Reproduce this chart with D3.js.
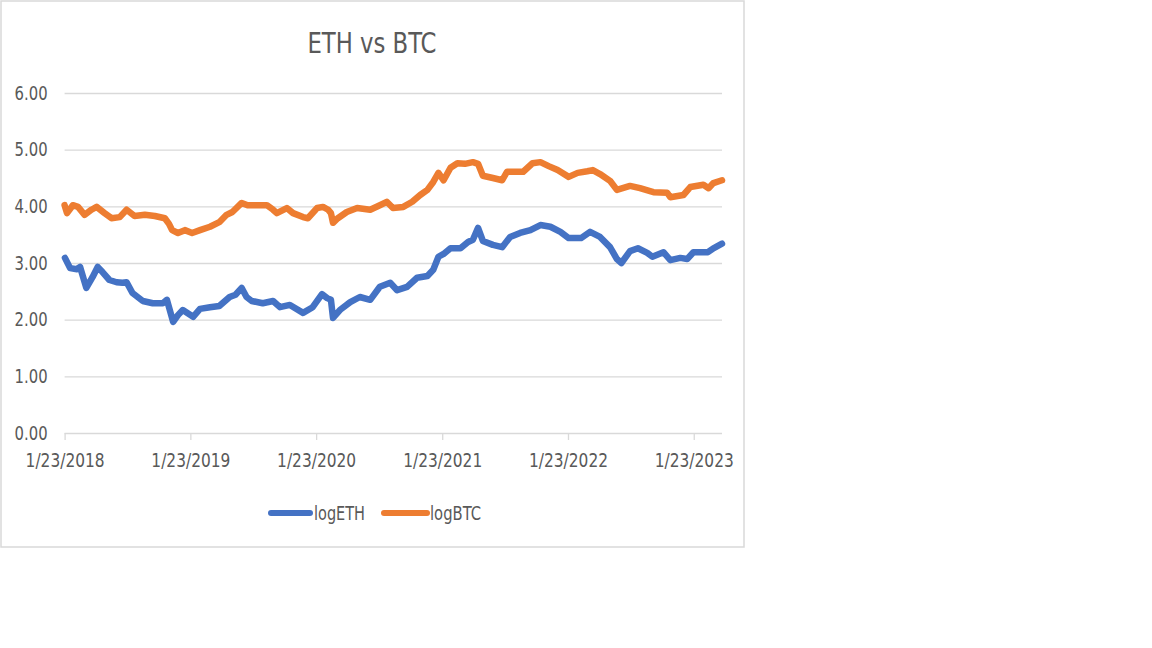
<!DOCTYPE html>
<html>
<head>
<meta charset="utf-8">
<script src="https://cdn.jsdelivr.net/npm/d3@7"></script>
<style>
  html, body { margin: 0; padding: 0; background: #ffffff; }
  svg { display: block; }
  text { font-family: "Liberation Sans Narrow", "DejaVu Sans Condensed", "Liberation Sans", sans-serif; fill: #595959; }
</style>
</head>
<body>
<svg id="chart" width="1152" height="648"></svg>
<script>
// ---------------- data ----------------
const chartTitle = "ETH vs BTC";
const seriesNames = ["logETH", "logBTC"];
const seriesColors = ["#4472C4", "#ED7D31"];

const yTickValues = [0, 1, 2, 3, 4, 5, 6];
const xTickDates = ["2018-01-23", "2019-01-23", "2020-01-23", "2021-01-23", "2022-01-23", "2023-01-23"];
const xStart = "2018-01-23";
const xEnd = "2023-04-15";

const ethDates = [
  "2018-01-24","2018-02-08","2018-02-28","2018-03-09","2018-03-27","2018-04-14","2018-04-29","2018-05-13",
  "2018-06-02","2018-06-23","2018-07-10","2018-07-22","2018-08-08","2018-09-07","2018-10-06","2018-11-04",
  "2018-11-16","2018-12-04","2018-12-18","2019-01-01","2019-01-31","2019-02-20","2019-03-21","2019-04-17",
  "2019-05-17","2019-06-03","2019-06-21","2019-07-05","2019-07-20","2019-08-21","2019-09-20","2019-10-10",
  "2019-11-08","2019-12-16","2020-01-13","2020-02-09","2020-02-24","2020-03-06","2020-03-12","2020-04-01",
  "2020-05-01","2020-05-29","2020-06-28","2020-07-26","2020-08-25","2020-09-14","2020-10-13","2020-11-11",
  "2020-12-11","2020-12-28","2021-01-12","2021-01-27","2021-02-16","2021-03-17","2021-04-08","2021-04-22",
  "2021-05-07","2021-05-21","2021-06-19","2021-07-16","2021-08-08","2021-09-06","2021-10-06","2021-11-04",
  "2021-12-03","2022-01-01","2022-01-25","2022-03-02","2022-03-28","2022-04-26","2022-05-25","2022-06-14",
  "2022-06-27","2022-07-22","2022-08-14","2022-09-10","2022-09-25","2022-10-27","2022-11-16","2022-12-15",
  "2023-01-04","2023-01-22","2023-03-05","2023-03-21","2023-04-15"
];
const ethValues = [
  3.09,2.91,2.89,2.93,2.56,2.75,2.93,2.84,
  2.70,2.66,2.65,2.66,2.47,2.33,2.29,2.29,
  2.35,1.96,2.08,2.17,2.05,2.19,2.22,2.24,
  2.40,2.44,2.56,2.40,2.33,2.29,2.33,2.22,
  2.26,2.12,2.22,2.45,2.38,2.35,2.03,2.17,
  2.31,2.40,2.35,2.58,2.65,2.52,2.58,2.74,
  2.77,2.88,3.11,3.16,3.26,3.26,3.37,3.41,
  3.62,3.39,3.32,3.28,3.46,3.53,3.58,3.67,
  3.64,3.55,3.44,3.44,3.55,3.46,3.28,3.07,
  3.00,3.21,3.26,3.18,3.11,3.19,3.05,3.09,
  3.07,3.19,3.19,3.26,3.34
];

const btcDates = [
  "2018-01-23","2018-01-30","2018-02-16","2018-03-03","2018-03-22","2018-04-11","2018-04-26","2018-05-19",
  "2018-06-08","2018-07-02","2018-07-22","2018-08-14","2018-09-13","2018-10-12","2018-11-10","2018-11-22",
  "2018-12-01","2018-12-18","2019-01-07","2019-01-28","2019-02-20","2019-03-21","2019-04-17","2019-05-08",
  "2019-05-25","2019-06-21","2019-07-08","2019-08-03","2019-09-02","2019-09-20","2019-10-01","2019-10-30",
  "2019-11-17","2019-12-16","2019-12-30","2020-01-26","2020-02-12","2020-02-27","2020-03-06","2020-03-12",
  "2020-03-26","2020-04-21","2020-05-21","2020-06-28","2020-07-26","2020-08-15","2020-09-02","2020-10-02",
  "2020-10-28","2020-11-20","2020-12-11","2020-12-28","2021-01-12","2021-01-27","2021-02-16","2021-03-08",
  "2021-03-30","2021-04-22","2021-05-07","2021-05-21","2021-06-19","2021-07-16","2021-07-30","2021-08-29",
  "2021-09-15","2021-10-12","2021-11-04","2021-11-28","2021-12-24","2022-01-25","2022-02-20","2022-03-20",
  "2022-04-05","2022-04-26","2022-05-25","2022-06-14","2022-07-22","2022-08-20","2022-09-28","2022-11-07",
  "2022-11-16","2022-12-24","2023-01-13","2023-02-20","2023-03-07","2023-03-21","2023-04-15"
];
const btcValues = [
  4.02,3.88,4.02,3.99,3.85,3.94,3.99,3.88,
  3.79,3.81,3.94,3.83,3.85,3.83,3.79,3.69,
  3.58,3.53,3.58,3.53,3.58,3.64,3.72,3.85,
  3.90,4.06,4.02,4.02,4.02,3.94,3.88,3.97,
  3.88,3.81,3.79,3.97,3.99,3.94,3.88,3.71,
  3.79,3.90,3.97,3.94,4.02,4.08,3.97,3.99,
  4.08,4.20,4.29,4.43,4.59,4.46,4.68,4.76,
  4.75,4.78,4.75,4.54,4.50,4.46,4.61,4.61,
  4.61,4.76,4.78,4.71,4.64,4.52,4.59,4.62,
  4.64,4.57,4.45,4.29,4.36,4.32,4.25,4.24,
  4.16,4.20,4.34,4.38,4.32,4.41,4.46
];

// ---------------- drawing ----------------
const parse = d3.timeParse("%Y-%m-%d");
const fmt = d3.timeFormat("%-m/%-d/%Y");
const svg = d3.select("#chart");
const fontStack = '"Liberation Sans Narrow", "DejaVu Sans Condensed", sans-serif';

const plot = { left: 64.6, right: 722, top: 93, bottom: 433 };

const x = d3.scaleTime().domain([parse(xStart), parse(xEnd)]).range([plot.left, plot.right]);
const y = d3.scaleLinear().domain([0, 6]).range([plot.bottom, plot.top]);

// outer chart border
svg.append("rect")
  .attr("x", 1).attr("y", 1).attr("width", 743).attr("height", 546)
  .attr("fill", "#ffffff").attr("stroke", "#d9d9d9").attr("stroke-width", 1.5);

// title
svg.append("text")
  .attr("x", 372).attr("y", 53)
  .attr("text-anchor", "middle")
  .attr("font-size", 29)
  .attr("textLength", 129).attr("lengthAdjust", "spacingAndGlyphs")
  .text(chartTitle);

// y gridlines + labels
const yAxis = d3.axisLeft(y).tickValues(yTickValues).tickSize(-(plot.right - plot.left)).tickPadding(17)
  .tickFormat(d3.format(".2f"));
const gy = svg.append("g").attr("transform", `translate(${plot.left},0)`).call(yAxis);
gy.select(".domain").remove();
gy.selectAll(".tick line").attr("stroke", "#d9d9d9").attr("stroke-width", 1.3);
gy.selectAll(".tick text").attr("font-size", 19).attr("fill", "#595959")
  .attr("textLength", 33).attr("lengthAdjust", "spacingAndGlyphs")
  .style("font-family", fontStack);

// x axis
const xAxis = d3.axisBottom(x).tickValues(xTickDates.map(parse)).tickSize(7).tickPadding(14).tickFormat(fmt);
const gx = svg.append("g").attr("transform", `translate(0,${plot.bottom})`).call(xAxis);
gx.select(".domain").remove();
gx.selectAll(".tick line").attr("stroke", "#d9d9d9").attr("stroke-width", 1.3);
gx.selectAll(".tick text").attr("font-size", 19).attr("fill", "#595959")
  .attr("textLength", 79).attr("lengthAdjust", "spacingAndGlyphs")
  .style("font-family", fontStack);

// lines
const line = d3.line().x(d => x(d.date)).y(d => y(d.value)).curve(d3.curveLinear);
const seriesData = [
  ethDates.map((d, i) => ({ date: parse(d), value: ethValues[i] })),
  btcDates.map((d, i) => ({ date: parse(d), value: btcValues[i] }))
];
seriesData.forEach((data, i) => {
  svg.append("path").datum(data)
    .attr("d", line)
    .attr("fill", "none")
    .attr("stroke", seriesColors[i])
    .attr("stroke-width", 6.5)
    .attr("stroke-linejoin", "round")
    .attr("stroke-linecap", "round");
});

// legend
const legendItems = [
  { x1: 271, x2: 310, tx: 314 },
  { x1: 384, x2: 427, tx: 430 }
];
legendItems.forEach((it, i) => {
  svg.append("line")
    .attr("x1", it.x1).attr("x2", it.x2).attr("y1", 513).attr("y2", 513)
    .attr("stroke", seriesColors[i]).attr("stroke-width", 6).attr("stroke-linecap", "round");
  svg.append("text")
    .attr("x", it.tx).attr("y", 520)
    .attr("font-size", 19)
    .attr("textLength", 51).attr("lengthAdjust", "spacingAndGlyphs")
    .text(seriesNames[i]);
});
</script>
</body>
</html>
